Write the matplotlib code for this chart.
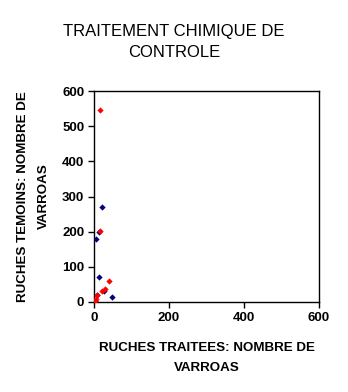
import matplotlib
matplotlib.use('Agg')
import matplotlib.pyplot as plt

plt.rcParams['font.family'] = ['Liberation Sans', 'DejaVu Sans']

# series 1 (blue)
blue_x = [22, 5, 14, 12, 49, 26, 9, 2]
blue_y = [270, 178, 200, 70, 13, 32, 20, 3]
# series 2 (red)
red_x = [17, 15, 41, 22, 30, 4, 9, 2]
red_y = [545, 202, 59, 31, 36, 8, 20, 3]

x_ticks = [0, 200, 400, 600]
y_ticks = [0, 100, 200, 300, 400, 500, 600]

fig = plt.figure(figsize=(3.48, 3.92), dpi=100)
ax = fig.add_axes([94 / 348, 1 - 302 / 392, 225 / 348, 211 / 392])

ax.plot(blue_x, blue_y, linestyle='none', marker='D', markersize=3.2,
        color='#000080', markeredgewidth=0, zorder=3)
ax.plot(red_x, red_y, linestyle='none', marker='D', markersize=3.2,
        color='#ff0000', markeredgewidth=0, zorder=4)

ax.set_xlim(0, 600)
ax.set_ylim(0, 600)
ax.set_xticks(x_ticks)
ax.set_yticks(y_ticks)
ax.tick_params(direction='out', length=4, width=1, labelsize=9.5, pad=3)
for lab in ax.get_xticklabels() + ax.get_yticklabels():
    lab.set_fontweight('bold')
for s in ax.spines.values():
    s.set_linewidth(1)

ax.set_xlabel('RUCHES TRAITEES: NOMBRE DE\nVARROAS', fontsize=9.6,
              fontweight='bold', labelpad=13, linespacing=1.9)
ax.set_ylabel('RUCHES TEMOINS: NOMBRE DE\nVARROAS', fontsize=9.6,
              fontweight='bold', labelpad=9, linespacing=1.9)
fig.text(0.5, 1 - 42 / 392, 'TRAITEMENT CHIMIQUE DE\nCONTROLE', ha='center',
         va='center', fontsize=12, linespacing=1.5)

fig.savefig('out.png', dpi=100)
